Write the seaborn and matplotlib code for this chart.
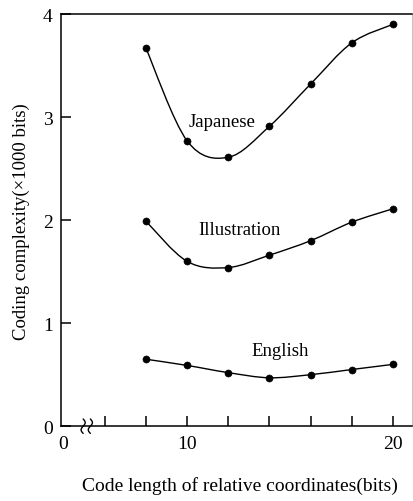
import matplotlib
matplotlib.use("Agg")
import matplotlib.pyplot as plt
from matplotlib.path import Path
from matplotlib.patches import PathPatch
import numpy as np
import pandas as pd
import seaborn as sns

# values
code_length = [8, 10, 12, 14, 16, 18, 20]
japanese = [3.67, 2.77, 2.61, 2.91, 3.32, 3.72, 3.90]
illustration = [1.99, 1.60, 1.54, 1.66, 1.80, 1.98, 2.11]
english = [0.65, 0.59, 0.52, 0.47, 0.50, 0.55, 0.60]
series_names = ["Japanese", "Illustration", "English"]
y_ticks = [0, 1, 2, 3, 4]
x_ticks = [6, 8, 10, 12, 14, 16, 18, 20]

sns.set_style("ticks")
plt.rcParams["font.family"] = ["Liberation Serif", "DejaVu Serif"]
for k in ["text.color", "axes.labelcolor", "xtick.color", "ytick.color", "axes.edgecolor"]:
    plt.rcParams[k] = "black"

df = pd.DataFrame({
    "bits": code_length * 3,
    "complexity": japanese + illustration + english,
    "series": sum([[n] * len(code_length) for n in series_names], []),
})

fig = plt.figure(figsize=(4.13, 5.02), dpi=100)
ax = fig.add_axes([0.148, 0.149, 0.849, 0.821])


def smooth_path(xs, ys):
    # Catmull-Rom curve through the points, drawn as cubic Bezier segments
    p = np.column_stack([xs, ys]).astype(float)
    p = np.vstack([p[0], p, p[-1]])
    verts = [p[1]]
    codes = [Path.MOVETO]
    for i in range(1, len(p) - 2):
        c1 = p[i] + (p[i + 1] - p[i - 1]) / 6
        c2 = p[i + 1] - (p[i + 2] - p[i]) / 6
        verts += [c1, c2, p[i + 1]]
        codes += [Path.CURVE4] * 3
    return Path(verts, codes)


for name in series_names:
    sub = df[df.series == name]
    ax.add_patch(PathPatch(smooth_path(sub.bits, sub.complexity),
                           fill=False, color="black", lw=1.0))

sns.scatterplot(data=df, x="bits", y="complexity", color="black",
                s=26, edgecolor="black", legend=False, ax=ax, zorder=3)

ax.set_xlim(3.88, 20.92)
ax.set_ylim(0, 4)
ax.set_xticks([4] + x_ticks)
ax.set_xticklabels(["0", "", "", "10", "", "", "", "", "20"])
ax.set_yticks(y_ticks)
ax.set_yticklabels([str(v) for v in y_ticks])
ax.tick_params(direction="in", length=7, width=1.1, labelsize=14, pad=6)
ax.xaxis.get_major_ticks()[0].tick1line.set_visible(False)

for s in ["left", "bottom", "top"]:
    ax.spines[s].set_linewidth(1.1)
ax.spines["right"].set_linewidth(0.6)
ax.spines["right"].set_color("#bbbbbb")

# axis break mark
t = np.linspace(-1, 1, 30)
for x0 in (4.95, 5.3):
    ax.plot(x0 + 0.1 * np.sin(t * np.pi), 0.07 * t, color="black", lw=1.0,
            clip_on=False, zorder=4)

ax.text(11.7, 2.96, "Japanese", fontsize=13.5, ha="center", va="center")
ax.text(12.57, 1.91, "Illustration", fontsize=13.5, ha="center", va="center")
ax.text(14.5, 0.73, "English", fontsize=13.5, ha="center", va="center")

ax.set_xlabel("Code length of relative coordinates(bits)", fontsize=14, va="center")
ax.set_ylabel("Coding complexity(×1000 bits)", fontsize=13.5, va="center")
ax.xaxis.set_label_coords(0.51, -0.143)
ax.yaxis.set_label_coords(-0.114, 0.5)

fig.savefig("out.png", dpi=100)
